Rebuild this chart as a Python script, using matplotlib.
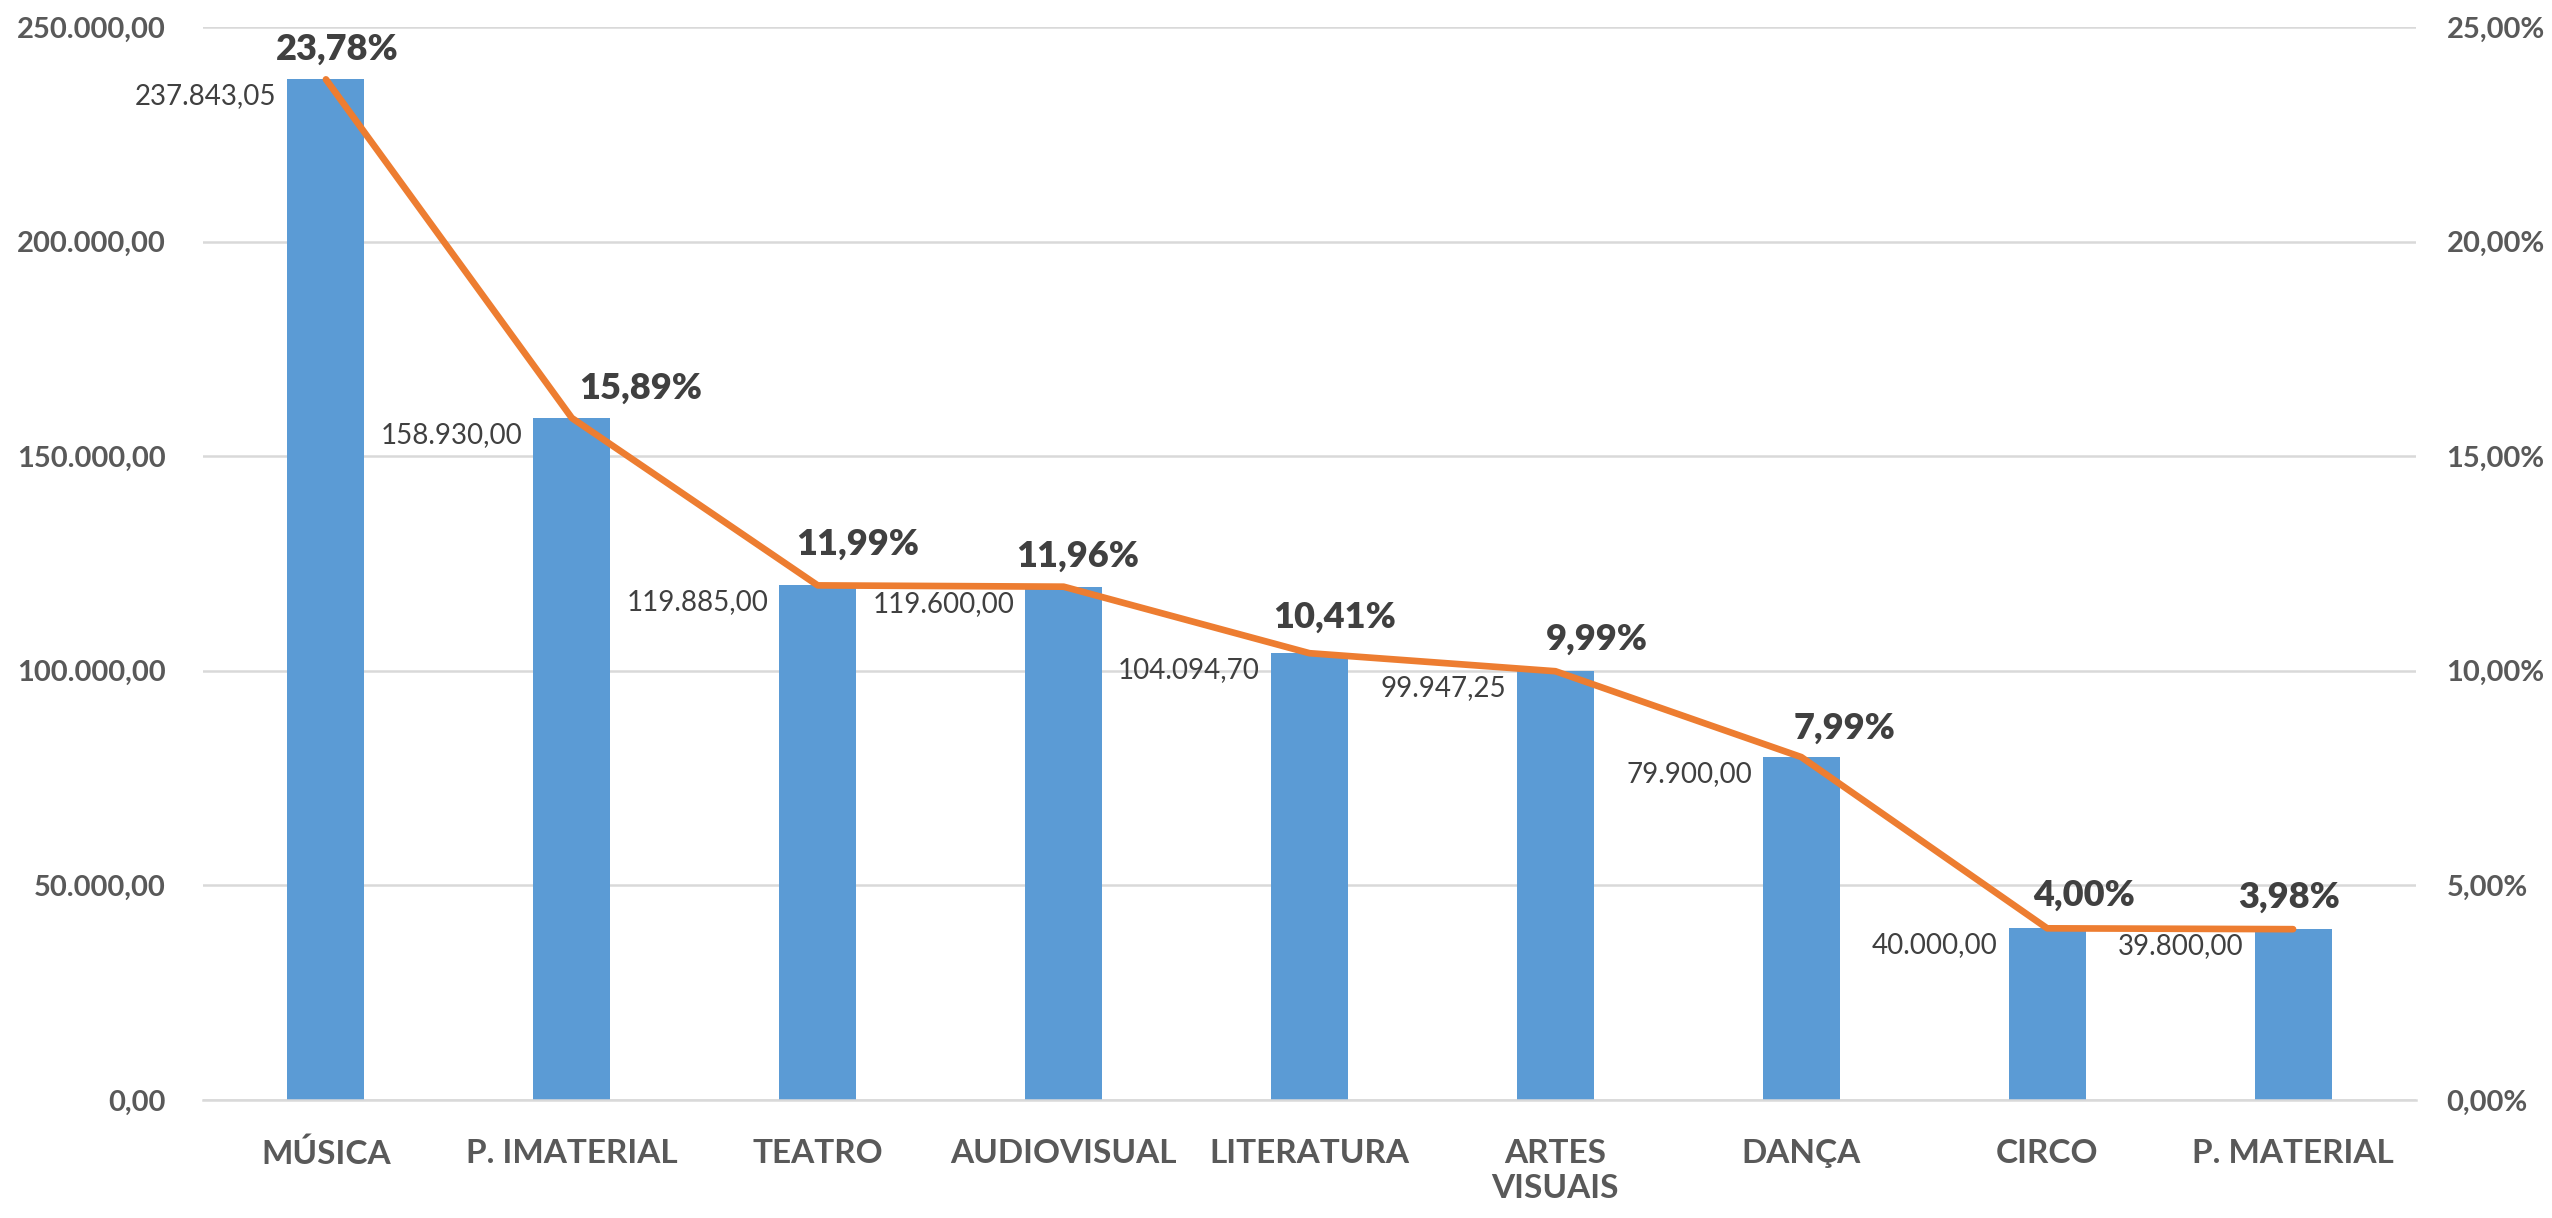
import numpy as np
import matplotlib.pyplot as plt

plt.rcParams['font.family'] = ['Lato', 'DejaVu Sans']

# dados
categorias = ['MÚSICA', 'P. IMATERIAL', 'TEATRO', 'AUDIOVISUAL', 'LITERATURA',
              'ARTES\nVISUAIS', 'DANÇA', 'CIRCO', 'P. MATERIAL']
valores = [237843.05, 158930.00, 119885.00, 119600.00, 104094.70,
           99947.25, 79900.00, 40000.00, 39800.00]
percentuais = [23.78, 15.89, 11.99, 11.96, 10.41, 9.99, 7.99, 4.00, 3.98]

# deslocamento dos rótulos de % (pixels), como arrastados no Excel
pct_dx = [11, 69, 40, 14, 25, 41, 43, 37, -4]
pct_dy = [30, 30, 41, 30, 36, 32, 29, 33, 32]


def fmt_br(v, casas=2):
    s = f'{v:,.{casas}f}'
    return s.replace(',', 'X').replace('.', ',').replace('X', '.')


AZUL = '#5B9BD5'
LARANJA = '#ED7D31'
GRADE = '#D9D9D9'
TXT = '#595959'
TXT2 = '#404040'

W, H = 2552, 1218
fig = plt.figure(figsize=(W / 100, H / 100), dpi=100)
ax = fig.add_axes([203 / W, 1 - 1100 / H, (2416 - 203) / W, (1100 - 27) / H])
ax2 = ax.twinx()

x = np.arange(len(categorias))
largura = 0.313
ax.bar(x, valores, width=largura, color=AZUL, zorder=2)
ax.set_xlim(-0.5, len(categorias) - 0.5)
ax.set_ylim(0, 250000)
yt = np.arange(0, 250001, 50000)
ax.set_yticks(yt)
ax.set_yticklabels([fmt_br(v) for v in yt])
ax.yaxis.grid(True, color=GRADE, linewidth=1.8, zorder=0)
ax.set_axisbelow(True)
ax.set_xticks(x)
ax.set_xticklabels(categorias, fontsize=24, fontweight='bold', color=TXT,
                   linespacing=1.25)
ax.tick_params(axis='x', length=0, pad=28)
ax.tick_params(axis='y', length=0, pad=27, labelsize=21, labelcolor=TXT)
for s in ['top', 'left', 'right']:
    ax.spines[s].set_visible(False)
ax.spines['bottom'].set_color(GRADE)
ax.spines['bottom'].set_linewidth(1.8)

# rótulos de valor à esquerda das barras
for i, v in enumerate(valores):
    ax.annotate(fmt_br(v), (x[i] - largura / 2, v), xytext=(-11, -17),
                textcoords='offset pixels', ha='right', va='center',
                fontsize=20, color=TXT2)

# linha de percentuais
pct = np.array(percentuais) / 100
ax2.plot(x, pct, color=LARANJA, linewidth=4.8, solid_capstyle='round',
         solid_joinstyle='round', zorder=3)
ax2.set_ylim(0, 0.25)
pt = np.arange(0, 0.2501, 0.05)
ax2.set_yticks(pt)
ax2.set_yticklabels([fmt_br(v * 100) + '%' for v in pt])
ax2.tick_params(axis='y', length=0, pad=22, labelsize=21, labelcolor=TXT)
for s in ax2.spines.values():
    s.set_visible(False)

for i, p in enumerate(percentuais):
    ax2.annotate(fmt_br(p) + '%', (x[i], p / 100), xytext=(pct_dx[i], pct_dy[i]),
                 textcoords='offset pixels', ha='center', va='center',
                 fontsize=26, fontweight='heavy', color=TXT2)

# negrito nos rótulos dos eixos y (depois de criar os ticks)
fig.canvas.draw()
for a in (ax, ax2):
    for t in a.yaxis.get_major_ticks():
        t.label1.set_fontweight('bold')
        t.label2.set_fontweight('bold')

fig.savefig('out.png', dpi=100, facecolor='white')
